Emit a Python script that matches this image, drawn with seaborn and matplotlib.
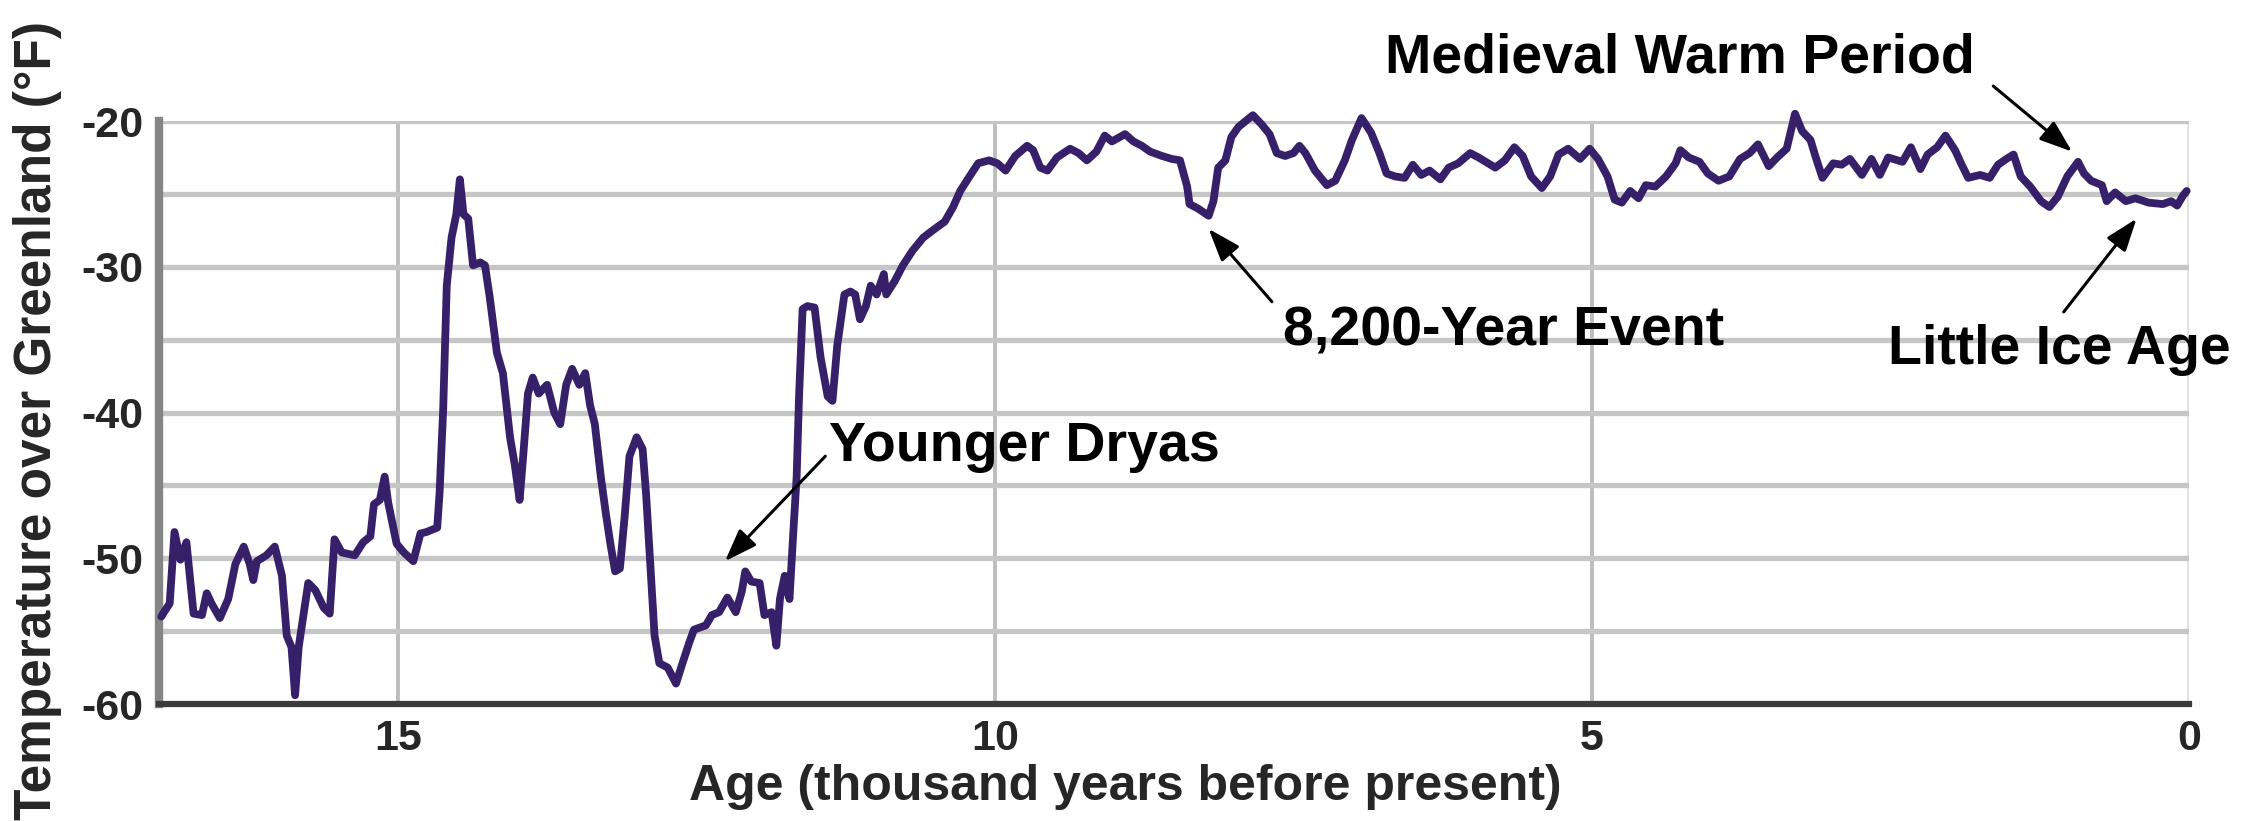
import pandas as pd
import matplotlib
matplotlib.use("Agg")
import matplotlib.pyplot as plt
import seaborn as sns

# Greenland ice-core temperature
age_kyr = [
    16.98, 16.95, 16.91, 16.87, 16.82, 16.77, 16.71, 16.64, 16.60, 16.56,
    16.49, 16.42, 16.36, 16.29, 16.24, 16.21, 16.18, 16.10, 16.03, 15.97,
    15.93, 15.89, 15.86, 15.83, 15.75, 15.69, 15.62, 15.57, 15.53, 15.47,
    15.36, 15.29, 15.23, 15.20, 15.15, 15.11, 15.08, 15.01, 14.95, 14.87,
    14.81, 14.76, 14.67, 14.65, 14.62, 14.59, 14.55, 14.51, 14.48, 14.45,
    14.41, 14.37, 14.31, 14.27, 14.23, 14.17, 14.12, 14.06, 14.02, 13.98,
    13.95, 13.91, 13.87, 13.82, 13.75, 13.69, 13.64, 13.59, 13.54, 13.48,
    13.43, 13.39, 13.35, 13.30, 13.26, 13.22, 13.18, 13.14, 13.10, 13.06,
    13.00, 12.95, 12.92, 12.88, 12.85, 12.81, 12.74, 12.67, 12.62, 12.56,
    12.52, 12.42, 12.37, 12.31, 12.24, 12.17, 12.12, 12.09, 12.04, 11.97,
    11.93, 11.87, 11.83, 11.80, 11.76, 11.72, 11.69, 11.66, 11.64, 11.61,
    11.57, 11.51, 11.46, 11.40, 11.36, 11.32, 11.26, 11.21, 11.17, 11.13,
    11.08, 11.04, 10.99, 10.93, 10.91, 10.84, 10.77, 10.69, 10.60, 10.52,
    10.42, 10.35, 10.29, 10.22, 10.14, 10.05, 9.98, 9.91, 9.83, 9.73,
    9.68, 9.62, 9.56, 9.48, 9.37, 9.30, 9.23, 9.15, 9.08, 9.02,
    8.91, 8.84, 8.77, 8.70, 8.60, 8.52, 8.45, 8.39, 8.37, 8.30,
    8.21, 8.17, 8.13, 8.07, 8.02, 7.96, 7.84, 7.77, 7.70, 7.64,
    7.57, 7.50, 7.45, 7.40, 7.32, 7.22, 7.15, 7.07, 7.01, 6.93,
    6.85, 6.78, 6.72, 6.65, 6.57, 6.50, 6.43, 6.36, 6.27, 6.20,
    6.12, 6.02, 5.95, 5.87, 5.81, 5.73, 5.65, 5.58, 5.51, 5.42,
    5.35, 5.28, 5.20, 5.10, 5.02, 4.95, 4.87, 4.81, 4.75, 4.68,
    4.61, 4.55, 4.47, 4.38, 4.30, 4.26, 4.19, 4.10, 4.03, 3.94,
    3.85, 3.76, 3.68, 3.61, 3.52, 3.45, 3.37, 3.30, 3.24, 3.17,
    3.13, 3.07, 2.98, 2.91, 2.84, 2.74, 2.66, 2.59, 2.52, 2.40,
    2.33, 2.25, 2.19, 2.11, 2.04, 1.96, 1.91, 1.85, 1.75, 1.67,
    1.60, 1.53, 1.47, 1.41, 1.33, 1.24, 1.17, 1.10, 1.02, 0.93,
    0.88, 0.82, 0.73, 0.69, 0.62, 0.53, 0.45, 0.34, 0.22, 0.15,
    0.10, 0.05, 0.02,
]
temp_f = [
    -54.0, -53.6, -53.1, -48.2, -50.1, -48.9, -53.8, -53.9, -52.4, -53.1,
    -54.1, -52.8, -50.4, -49.2, -50.4, -51.5, -50.2, -49.8, -49.2, -51.2,
    -55.3, -56.1, -59.4, -56.1, -51.7, -52.2, -53.4, -53.8, -48.7, -49.6,
    -49.8, -48.9, -48.5, -46.3, -46.0, -44.4, -46.2, -49.0, -49.6, -50.2,
    -48.3, -48.2, -47.9, -45.5, -39.8, -31.3, -28.0, -26.4, -24.0, -26.4,
    -26.7, -29.9, -29.7, -29.9, -32.1, -35.9, -37.3, -41.7, -43.6, -46.0,
    -43.0, -38.7, -37.6, -38.7, -38.1, -40.0, -40.8, -38.1, -37.0, -38.1,
    -37.3, -39.5, -40.8, -44.4, -46.8, -49.0, -50.9, -50.7, -47.1, -43.0,
    -41.7, -42.5, -45.7, -51.2, -55.3, -57.2, -57.5, -58.6, -57.3, -55.8,
    -54.9, -54.6, -53.9, -53.7, -52.7, -53.7, -52.3, -50.9, -51.6, -51.7,
    -53.9, -53.7, -56.0, -52.8, -51.2, -52.8, -48.5, -44.4, -38.9, -32.9,
    -32.7, -32.8, -36.2, -38.9, -39.2, -35.4, -31.9, -31.7, -31.9, -33.6,
    -32.7, -31.3, -31.9, -30.5, -31.9, -31.0, -29.9, -28.9, -28.0, -27.5,
    -26.9, -25.9, -24.8, -23.9, -22.9, -22.7, -22.9, -23.4, -22.4, -21.7,
    -22.0, -23.2, -23.4, -22.5, -21.9, -22.2, -22.7, -22.1, -21.0, -21.4,
    -20.9, -21.4, -21.7, -22.1, -22.4, -22.6, -22.7, -24.5, -25.7, -26.0,
    -26.5, -25.5, -23.2, -22.7, -21.1, -20.4, -19.6, -20.2, -20.9, -22.2,
    -22.4, -22.2, -21.7, -22.2, -23.4, -24.4, -24.1, -22.7, -21.3, -19.8,
    -20.8, -22.2, -23.6, -23.8, -23.9, -23.0, -23.7, -23.4, -24.0, -23.2,
    -22.9, -22.2, -22.5, -22.9, -23.2, -22.7, -21.8, -22.4, -23.8, -24.6,
    -23.8, -22.3, -21.9, -22.6, -21.9, -22.6, -23.8, -25.4, -25.6, -24.8,
    -25.3, -24.4, -24.5, -23.8, -22.9, -22.0, -22.5, -22.8, -23.6, -24.1,
    -23.8, -22.6, -22.2, -21.6, -23.1, -22.5, -21.9, -19.5, -20.7, -21.3,
    -22.4, -23.9, -22.9, -23.0, -22.6, -23.7, -22.6, -23.7, -22.5, -22.8,
    -21.8, -23.3, -22.3, -21.8, -21.0, -22.0, -22.9, -23.9, -23.7, -23.9,
    -23.0, -22.6, -22.3, -23.8, -24.5, -25.5, -25.9, -25.2, -23.8, -22.8,
    -23.6, -24.1, -24.4, -25.5, -24.9, -25.5, -25.3, -25.6, -25.7, -25.5,
    -25.8, -25.1, -24.8,
]

x_ticks = [15, 10, 5, 0]
y_ticks = [-60, -50, -40, -30, -20]
y_minor = [-55, -45, -35, -25]

# label, text (x, baseline y), arrow head, arrow tail
events = [
    ("Younger Dryas", (9.75, -43.3), (12.26, -50.2), (11.42, -43.0)),
    ("8,200-Year Event", (5.74, -35.4), (8.21, -27.4), (7.68, -32.4)),
    ("Medieval Warm Period", (4.26, -16.7), (0.98, -22.1), (1.64, -17.6)),
    ("Little Ice Age", (1.09, -36.7), (0.44, -26.7), (1.05, -33.1)),
]

df = pd.DataFrame({"age": age_kyr, "temp": temp_f})

sns.set_style("white")
plt.rcParams['font.family'] = ['Liberation Sans', 'DejaVu Sans']
plt.rcParams['font.weight'] = 'bold'

fig = plt.figure(figsize=(22.61, 8.21), dpi=100)
ax = fig.add_axes([0.0703, 0.1425, 0.8979, 0.7101])

sns.lineplot(data=df, x="age", y="temp", ax=ax, color="#36206a", lw=5.6,
             estimator=None, sort=False, zorder=3, clip_on=False)

ax.set_xlim(17, 0)
ax.set_ylim(-60, -20)
ax.set_xticks(x_ticks)
ax.set_xticklabels([str(t) for t in x_ticks])
ax.set_yticks(y_ticks)
ax.set_yticks(y_minor, minor=True)
ax.set_yticklabels([str(t) for t in y_ticks])

ax.grid(which="both", axis="y", color="#c6c6c6", lw=3.8, zorder=0)
ax.grid(which="major", axis="x", color="#bdbdbd", lw=2.8, zorder=0)
ax.get_xgridlines()[-1].set_color("#e2e2e2")
ax.set_axisbelow(True)

for s in ["top", "right"]:
    ax.spines[s].set_visible(False)
ax.spines["left"].set_color("#858585")
ax.spines["left"].set_linewidth(6)
ax.spines["bottom"].set_color("#3c3c3c")
ax.spines["bottom"].set_linewidth(4.5)

ax.tick_params(which="both", length=0, pad=11, labelsize=31)
for lab in ax.get_xticklabels() + ax.get_yticklabels():
    lab.set_fontweight("bold")

ax.set_xlabel("Age (thousand years before present)", fontsize=36, fontweight="bold")
ax.xaxis.set_label_coords(0.476, -0.103)
ax.set_ylabel("Temperature over Greenland (°F)", fontsize=37, fontweight="bold")
ax.yaxis.set_label_coords(-0.048, 0.487)

for label, txt, head, tail in events:
    ax.text(txt[0], txt[1], label, ha="center", va="baseline", fontsize=40,
            fontweight="bold", color="black", clip_on=False)
    ax.annotate("", xy=head, xytext=tail, annotation_clip=False,
                arrowprops=dict(arrowstyle="-|>,head_length=0.5,head_width=0.18",
                                color="black", lw=2.2, mutation_scale=40,
                                shrinkA=0, shrinkB=0))

fig.savefig("out.png", dpi=100)
